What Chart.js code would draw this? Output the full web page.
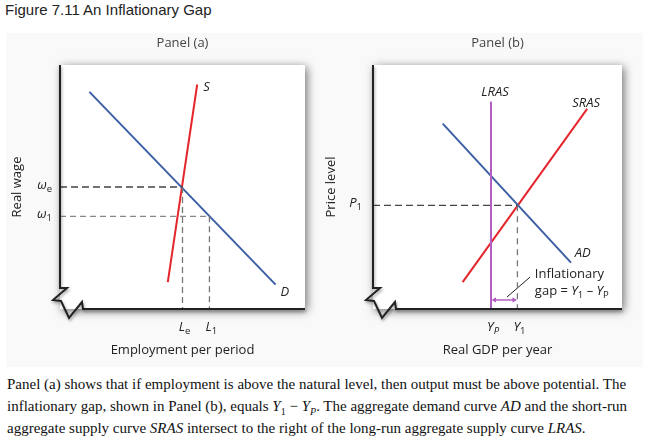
<!DOCTYPE html>
<html>
<head>
<meta charset="utf-8">
<title>Figure 7.11 An Inflationary Gap</title>
<script src="https://cdn.jsdelivr.net/npm/chart.js@4.4.1/dist/chart.umd.min.js"></script>
<style>
  body { margin: 0; width: 649px; height: 445px; background: #fff; position: relative; overflow: hidden; font-family: "Liberation Sans", Arial, sans-serif; }
  #heading { position: absolute; left: 5px; top: 1px; font-size: 15px; color: #222; }
  #fig { position: absolute; left: 6px; top: 33px; width: 637px; height: 334px; background: #f9f9f9; }
  #panelA { position: absolute; left: 0; top: 34px; }
  #panelB { position: absolute; left: 320px; top: 34px; }
  #caption { position: absolute; left: 7px; top: 373px; font-family: "Liberation Serif", "Times New Roman", serif; font-size: 15px; line-height: 22px; color: #111; white-space: nowrap; }
  #caption sub { font-size: 10px; line-height: 0; }
</style>
</head>
<body>
<div id="heading">Figure 7.11 An Inflationary Gap</div>
<div id="fig"></div>
<canvas id="panelA" width="320" height="330"></canvas>
<canvas id="panelB" width="329" height="330"></canvas>
<div id="caption">
  Panel (a) shows that if employment is above the natural level, then output must be above potential. The<br>
  inflationary gap, shown in Panel (b), equals <i>Y</i><sub>1</sub> &minus; <i>Y</i><sub><i>P</i></sub>. The aggregate demand curve <i>AD</i> and the short-run<br>
  aggregate supply curve <i>SRAS</i> intersect to the right of the long-run aggregate supply curve <i>LRAS</i>.
</div>

<script>
// Panel (a): labour market
const demandA = [[1.2, 8.9], [8.8, 1.0]];
const supplyA = [[5.6, 9.2], [4.4, 1.1]];
const wageTicks = [5.0, 3.8];
const wageLabels = [["\u03c9", "e"], ["\u03c9", "1"]];
const empTicks = [5.0, 6.1];
const empLabels = [["L", "e"], ["L", "1"]];

// Panel (b): aggregate demand and supply
const lras = [[4.74, 0], [4.74, 8.5]];
const sras = [[3.6, 1.1], [8.6, 8.2]];
const ad = [[2.8, 7.6], [7.95, 1.9]];
const priceTicks = [4.25];
const priceLabels = [["P", "1"]];
const gdpTicks = [4.74, 5.8];
const gdpLabels = [["Y", "P"], ["Y", "1"]];
const gapArrow = [[4.88, 0.37], [5.66, 0.37]];
const gapLeader = [[5.38, 0.49], [6.31, 1.31]];

const FONT = '"Open Sans", "DejaVu Sans", sans-serif';
Chart.defaults.font.family = FONT;
Chart.defaults.color = "#222";

const pts = arr => arr.map(p => ({ x: p[0], y: p[1] }));

function line(data, color, width, dash) {
  return {
    data: pts(data),
    showLine: true,
    borderColor: color,
    backgroundColor: color,
    borderWidth: width,
    borderDash: dash || [],
    pointRadius: 0,
    fill: false
  };
}

// draws a row of text pieces (normal, italic, subscript) starting at x, or ending at x
function drawRuns(ctx, runs, x, y, align) {
  const fontOf = r => (r.italic ? "italic " : "") + (r.sub ? 9.5 : 13) + "px " + FONT;
  let total = 0;
  runs.forEach(r => { ctx.font = fontOf(r); total += ctx.measureText(r.t).width; });
  let px = align === "right" ? x - total : align === "center" ? x - total / 2 : x;
  ctx.textAlign = "left";
  ctx.textBaseline = "middle";
  runs.forEach(r => {
    ctx.font = fontOf(r);
    ctx.fillText(r.t, px, y + (r.sub ? 4 : 0));
    px += ctx.measureText(r.t).width;
  });
}

// white plot box with a soft shadow, then the axes with the break mark
const frame = {
  id: "frame",
  beforeDraw(chart) {
    const { ctx, chartArea: a } = chart;
    ctx.save();
    ctx.shadowColor = "rgba(0,0,0,0.55)";
    ctx.shadowBlur = 9;
    ctx.shadowOffsetX = 2;
    ctx.shadowOffsetY = 2;
    ctx.fillStyle = "#fff";
    ctx.fillRect(a.left, a.top, a.right - a.left, a.bottom - a.top);
    ctx.restore();
  },
  afterDatasetsDraw(chart) {
    const { ctx, chartArea: a } = chart;
    const L = a.left, B = a.bottom;
    ctx.save();
    ctx.strokeStyle = "#222";
    ctx.lineWidth = 2;
    ctx.shadowColor = "rgba(0,0,0,0.35)";
    ctx.shadowBlur = 3;
    ctx.shadowOffsetX = 1;
    ctx.shadowOffsetY = 2;
    ctx.beginPath();
    ctx.moveTo(L, a.top);
    ctx.lineTo(L, B - 21);
    ctx.lineTo(L + 7, B - 21);
    ctx.lineTo(L - 7, B - 9);
    ctx.lineTo(L + 1, B - 8);
    ctx.lineTo(L + 9, B + 9);
    ctx.lineTo(L + 22, B - 7);
    ctx.lineTo(L + 23, B);
    ctx.lineTo(a.right, B);
    ctx.stroke();
    ctx.restore();
  }
};

// curve names and tick labels, placed through the chart's scales
const curveLabels = {
  id: "curveLabels",
  afterDatasetsDraw(chart, args, opts) {
    const ctx = chart.ctx, sx = chart.scales.x, sy = chart.scales.y, a = chart.chartArea;
    ctx.save();
    ctx.fillStyle = "#222";
    (opts.items || []).forEach(it => {
      drawRuns(ctx, it.runs, sx.getPixelForValue(it.x), sy.getPixelForValue(it.y), "left");
    });
    const tickRuns = lab => [{ t: lab[0], italic: true }, { t: lab[1], sub: true, italic: /[A-Z]/.test(lab[1]) }];
    sx.ticks.forEach((t, i) => {
      drawRuns(ctx, tickRuns(opts.xLabels[i]), sx.getPixelForValue(t.value) + 2, a.bottom + 18, "center");
    });
    sy.ticks.forEach((t, i) => {
      drawRuns(ctx, tickRuns(opts.yLabels[i]), a.left - opts.yGap, sy.getPixelForValue(t.value) - 2, "right");
    });
    ctx.restore();
  }
};

function scales(xt, xTitle, yt, yTitle, yWidth, yTitlePad) {
  return {
    x: {
      type: "linear", min: 0, max: 10,
      grid: { display: false, drawTicks: false },
      border: { display: false },
      afterBuildTicks: s => { s.ticks = xt.map(v => ({ value: v })); },
      afterFit: s => { s.height = 55; },
      ticks: { display: false },
      title: { display: true, text: xTitle, color: "#222", font: { family: FONT, size: 13 },
               padding: { top: 0, bottom: 6 } }
    },
    y: {
      type: "linear", min: 0, max: 10,
      grid: { display: false, drawTicks: false },
      border: { display: false },
      afterBuildTicks: s => { s.ticks = yt.map(v => ({ value: v })); },
      afterFit: s => { s.width = yWidth; },
      ticks: { display: false },
      title: { display: true, text: yTitle, color: "#222", font: { family: FONT, size: 13 },
               padding: { top: yTitlePad, bottom: 0 } }
    }
  };
}

function panelTitle(text) {
  return {
    display: true, text: text, fullSize: false, color: "#444",
    font: { family: FONT, size: 13, weight: "normal" },
    padding: { top: 1, bottom: 14.4 }
  };
}

new Chart(document.getElementById("panelA"), {
  type: "scatter",
  data: {
    datasets: [
      line([[0, wageTicks[0]], [empTicks[0], wageTicks[0]]], "#444", 1.3, [7, 4]),
      line([[empTicks[0], wageTicks[0]], [empTicks[0], 0]], "#777", 1.3, [6, 4]),
      line([[0, wageTicks[1]], [empTicks[1], wageTicks[1]]], "#888", 1.3, [6, 4]),
      line([[empTicks[1], wageTicks[1]], [empTicks[1], 0]], "#777", 1.3, [6, 4]),
      line(demandA, "#3d5fa5", 2),
      line(supplyA, "#e4262c", 2)
    ]
  },
  options: {
    responsive: false,
    animation: false,
    layout: { padding: { left: 0, right: 15, top: 0, bottom: 0 } },
    scales: scales(empTicks, "Employment per period", wageTicks, "Real wage", 60, 9),
    plugins: {
      legend: { display: false },
      tooltip: { enabled: false },
      title: panelTitle("Panel (a)"),
      curveLabels: {
        xLabels: empLabels,
        yLabels: wageLabels,
        yGap: 8,
        items: [
          { x: 5.85, y: 9.1, runs: [{ t: "S", italic: true }] },
          { x: 9.0, y: 0.7, runs: [{ t: "D", italic: true }] }
        ]
      }
    }
  },
  plugins: [frame, curveLabels]
});

const arrowSet = line(gapArrow, "#b35ec3", 1.5);
arrowSet.pointStyle = "triangle";
arrowSet.pointRadius = 3;
arrowSet.pointRotation = [-90, 90];
arrowSet.pointBorderWidth = 0;

new Chart(document.getElementById("panelB"), {
  type: "scatter",
  data: {
    datasets: [
      line([[0, priceTicks[0]], [gdpTicks[1], priceTicks[0]]], "#444", 1.3, [7, 4]),
      line([[gdpTicks[1], priceTicks[0]], [gdpTicks[1], 0]], "#777", 1.3, [6, 5]),
      line(lras, "#b35ec3", 2),
      line(ad, "#3d5fa5", 2),
      line(sras, "#e4262c", 2),
      line(gapLeader, "#222", 1),
      arrowSet
    ]
  },
  options: {
    responsive: false,
    animation: false,
    layout: { padding: { left: 0, right: 27, top: 0, bottom: 0 } },
    scales: scales(gdpTicks, "Real GDP per year", priceTicks, "Price level", 53, 3),
    plugins: {
      legend: { display: false },
      tooltip: { enabled: false },
      title: panelTitle("Panel (b)"),
      curveLabels: {
        xLabels: gdpLabels,
        yLabels: priceLabels,
        yGap: 11,
        items: [
          { x: 4.35, y: 8.9, runs: [{ t: "LRAS", italic: true }] },
          { x: 8.0, y: 8.45, runs: [{ t: "SRAS", italic: true }] },
          { x: 8.1, y: 2.3, runs: [{ t: "AD", italic: true }] },
          { x: 6.5, y: 1.43, runs: [{ t: "Inflationary" }] },
          { x: 6.5, y: 0.74, runs: [{ t: "gap = " }, { t: "Y", italic: true }, { t: "1", sub: true },
                                    { t: " \u2013 " }, { t: "Y", italic: true }, { t: "P", sub: true }] }
        ]
      }
    }
  },
  plugins: [frame, curveLabels]
});
</script>
</body>
</html>
